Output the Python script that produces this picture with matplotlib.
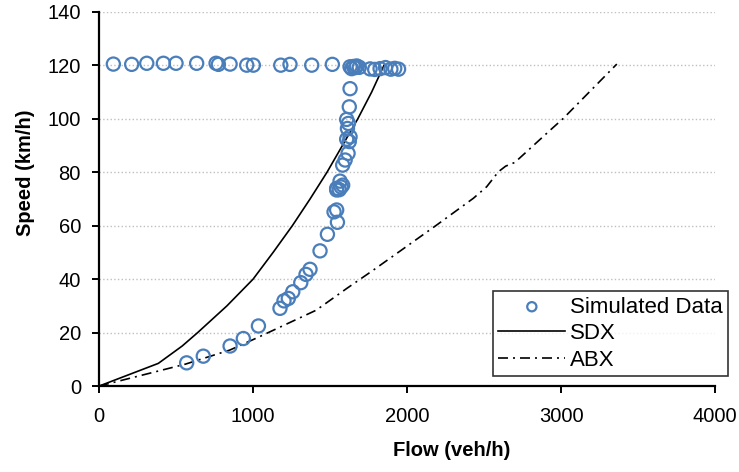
import matplotlib
matplotlib.use("Agg")
import matplotlib.pyplot as plt

plt.rcParams['font.family'] = ['Liberation Sans', 'DejaVu Sans']

# simulated points (flow veh/h, speed km/h)
sim_flow = [93, 212, 310, 418, 500, 634, 760, 775, 851, 959, 1002, 1180, 1240, 1381, 1515,
            1630, 1640, 1652, 1665, 1673, 1690, 1760, 1790, 1825, 1860, 1895, 1920, 1945,
            1630, 1625, 1608, 1619, 1613, 1630, 1608, 1625, 1617, 1598, 1582, 1565, 1582,
            1543, 1560, 1572, 1543, 1543, 1526, 1548, 1483, 1435, 1370, 1344, 1310, 1258,
            1229, 1201, 1175, 1035, 937, 851, 677, 569]
sim_speed = [120.5, 120.4, 120.8, 120.8, 120.8, 120.8, 120.8, 120.4, 120.5, 120.1, 120.1, 120.1,
             120.4, 120.1, 120.4,
             119.5, 118.8, 119.6, 119.2, 119.8, 119.3, 118.7, 118.5, 118.8, 119.2, 118.6, 118.9, 118.6,
             111.3, 104.5, 99.8, 98.3, 96.4, 93.3, 92.4, 91.5, 87.1, 84.6, 82.7, 76.7, 75.2,
             74.0, 73.5, 74.5, 73.4, 65.9, 65.2, 61.3, 56.8, 50.6, 43.7, 41.8, 38.7, 35.3,
             32.8, 31.9, 29.1, 22.5, 17.8, 15.0, 11.2, 8.7]

sdx_flow = [0, 385, 540, 640, 830, 1000, 1130, 1255, 1370, 1480, 1580, 1680, 1770, 1850]
sdx_speed = [0, 8.5, 15, 20, 30, 40, 50, 60, 70, 80, 90, 100, 110, 120]

abx_flow = [0, 560, 850, 1035, 1410, 1610, 1781, 2193, 2431, 2517, 2593, 2640, 2700, 2930, 3015, 3362]
abx_speed = [0, 8.2, 13.5, 18.3, 28.4, 36.6, 43.4, 60.3, 70.3, 74.6, 80.2, 82.3, 83.7, 95.8, 100.2, 120.5]

fig = plt.figure(figsize=(7.39, 4.72), dpi=100)
ax = fig.add_axes([0.134, 0.182, 0.8336, 0.7926])

ax.scatter(sim_flow, sim_speed, s=90, facecolors='none', edgecolors='#4A7EBB',
           linewidths=1.6, label='Simulated Data', zorder=3)
ax.plot(sdx_flow, sdx_speed, color='black', lw=1.2, label='SDX', zorder=2)
ax.plot(abx_flow, abx_speed, color='black', lw=1.2, dashes=(6, 3, 1.2, 3), label='ABX', zorder=2)

ax.set_xlim(0, 4000)
ax.set_ylim(0, 140)
ax.set_xticks([0, 1000, 2000, 3000, 4000])
ax.set_yticks(range(0, 141, 20))
ax.yaxis.grid(True, linestyle=':', color='#bfbfbf', lw=1)
ax.set_axisbelow(True)

for s in ['top', 'right']:
    ax.spines[s].set_visible(False)
for s in ['left', 'bottom']:
    ax.spines[s].set_linewidth(1.6)
ax.tick_params(axis='both', direction='out', length=5, width=1.4, labelsize=14.5)
ax.tick_params(axis='x', pad=10)
ax.tick_params(axis='y', pad=8)

ax.set_xlabel('Flow (veh/h)', fontsize=14.5, fontweight='bold')
ax.set_ylabel('Speed (km/h)', fontsize=14.5, fontweight='bold')
ax.xaxis.set_label_coords(0.573, -0.147)
ax.yaxis.set_label_coords(-0.104, 0.57)

leg = ax.legend(loc='upper left', bbox_to_anchor=(0.652, 0.407), bbox_transform=fig.transFigure,
                fontsize=16, frameon=True, fancybox=False, markerscale=0.7,
                handlelength=3.0, borderpad=0.25, labelspacing=0.25, handletextpad=0.2)
leg.get_frame().set_edgecolor('black')
leg.get_frame().set_linewidth(1.2)

fig.savefig('out.png', dpi=100)
